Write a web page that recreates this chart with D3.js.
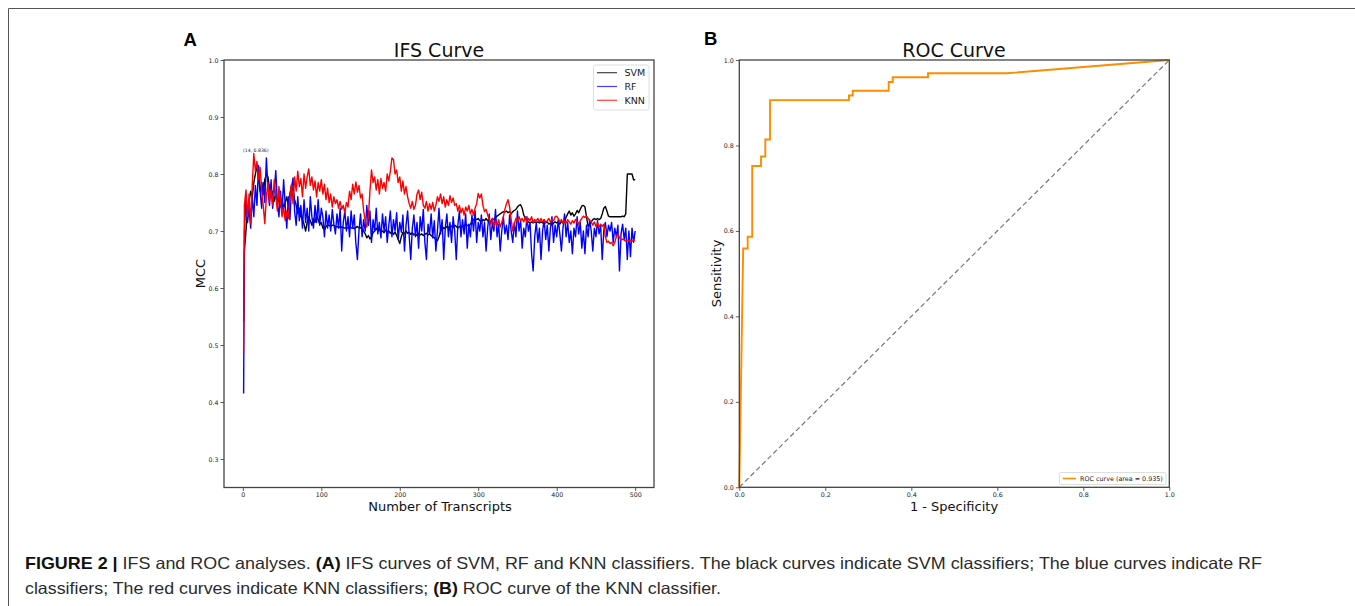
<!DOCTYPE html>
<html>
<head>
<meta charset="utf-8">
<script src="https://cdn.jsdelivr.net/npm/d3@7"></script>
<style>
  body { margin: 0; background: #fff; }
  svg { display: block; }
  .tick text { font-family: "DejaVu Sans", sans-serif; fill: #222; }
</style>
</head>
<body>
<svg id="fig" width="1355" height="606"></svg>
<script>
// number of transcripts used for each point of the IFS curves
const transcripts = [1, ...d3.range(2, 501, 2)];

const svmMcc = [
  0.540,0.665,0.700,0.735,0.752,0.770,0.760,0.785,0.800,0.815,
  0.790,0.770,0.785,0.765,0.790,0.800,0.795,0.775,0.760,0.770,
  0.752,0.765,0.745,0.760,0.742,0.755,0.740,0.750,0.760,0.745,
  0.765,0.780,0.770,0.755,0.745,0.730,0.740,0.725,0.720,0.712,
  0.700,0.715,0.725,0.718,0.710,0.722,0.715,0.728,0.720,0.712,
  0.715,0.705,0.702,0.708,0.710,0.710,0.708,0.710,0.710,0.708,
  0.707,0.708,0.706,0.707,0.706,0.705,0.706,0.705,0.707,0.705,
  0.706,0.704,0.706,0.708,0.705,0.706,0.704,0.700,0.695,0.688,
  0.692,0.686,0.690,0.697,0.700,0.705,0.700,0.703,0.698,0.700,
  0.697,0.702,0.698,0.700,0.696,0.700,0.694,0.698,0.692,0.685,
  0.678,0.690,0.698,0.695,0.700,0.696,0.698,0.694,0.697,0.693,
  0.695,0.692,0.696,0.693,0.695,0.692,0.694,0.696,0.693,0.695,
  0.692,0.690,0.688,0.685,0.683,0.690,0.700,0.702,0.706,0.704,
  0.708,0.705,0.710,0.708,0.706,0.710,0.708,0.705,0.708,0.706,
  0.710,0.708,0.712,0.710,0.708,0.712,0.716,0.720,0.722,0.720,
  0.722,0.718,0.716,0.720,0.718,0.722,0.718,0.720,0.716,0.722,
  0.720,0.724,0.726,0.728,0.730,0.732,0.734,0.733,0.735,0.732,
  0.734,0.730,0.734,0.736,0.738,0.742,0.745,0.746,0.740,0.728,
  0.722,0.718,0.716,0.714,0.716,0.714,0.716,0.715,0.716,0.714,
  0.716,0.714,0.716,0.714,0.716,0.712,0.714,0.710,0.714,0.716,
  0.714,0.716,0.712,0.716,0.714,0.716,0.724,0.730,0.735,0.728,
  0.732,0.726,0.730,0.736,0.732,0.738,0.744,0.745,0.742,0.725,
  0.708,0.712,0.716,0.720,0.722,0.720,0.722,0.720,0.722,0.730,
  0.740,0.743,0.735,0.726,0.725,0.725,0.725,0.725,0.725,0.725,
  0.725,0.725,0.726,0.725,0.730,0.800,0.800,0.800,0.800,0.790,
  0.790
];

const rfMcc = [
  0.415,0.700,0.755,0.715,0.740,0.705,0.760,0.725,0.780,0.745,
  0.815,0.770,0.740,0.785,0.750,0.828,0.775,0.745,0.790,0.740,
  0.770,0.806,0.750,0.725,0.770,0.735,0.790,0.745,0.705,0.760,
  0.720,0.775,0.793,0.735,0.710,0.760,0.718,0.745,0.705,0.755,
  0.715,0.740,0.700,0.760,0.725,0.705,0.745,0.715,0.755,0.710,
  0.740,0.725,0.690,0.735,0.705,0.728,0.700,0.738,0.712,0.695,
  0.730,0.705,0.740,0.665,0.715,0.735,0.700,0.725,0.690,0.735,
  0.705,0.728,0.680,0.650,0.700,0.730,0.690,0.720,0.700,0.745,
  0.710,0.735,0.680,0.720,0.700,0.740,0.695,0.715,0.688,0.730,
  0.700,0.725,0.680,0.710,0.735,0.690,0.720,0.700,0.732,0.685,
  0.715,0.698,0.728,0.665,0.710,0.735,0.692,0.650,0.705,0.728,
  0.690,0.715,0.670,0.725,0.700,0.738,0.680,0.650,0.712,0.695,
  0.730,0.688,0.718,0.665,0.700,0.740,0.695,0.720,0.650,0.705,
  0.730,0.690,0.715,0.680,0.725,0.700,0.650,0.710,0.735,0.690,
  0.720,0.695,0.730,0.670,0.712,0.690,0.728,0.700,0.735,0.680,
  0.715,0.700,0.728,0.690,0.715,0.665,0.705,0.730,0.685,0.715,
  0.700,0.738,0.690,0.712,0.665,0.700,0.725,0.695,0.710,0.685,
  0.728,0.700,0.680,0.715,0.690,0.735,0.700,0.720,0.670,0.705,
  0.690,0.725,0.700,0.715,0.660,0.630,0.690,0.715,0.680,0.705,
  0.650,0.700,0.720,0.685,0.710,0.665,0.705,0.725,0.680,0.710,
  0.690,0.720,0.695,0.665,0.705,0.730,0.690,0.715,0.680,0.700,
  0.660,0.705,0.690,0.725,0.695,0.715,0.670,0.700,0.660,0.710,
  0.690,0.720,0.700,0.665,0.705,0.690,0.718,0.695,0.710,0.650,
  0.700,0.715,0.690,0.710,0.700,0.715,0.680,0.705,0.690,0.710,
  0.630,0.695,0.712,0.685,0.705,0.650,0.700,0.655,0.705,0.680,
  0.700
];

const knnMcc = [
  0.486,0.745,0.772,0.726,0.765,0.712,0.780,0.836,0.805,0.822,
  0.790,0.812,0.770,0.745,0.713,0.760,0.785,0.750,0.772,0.745,
  0.790,0.762,0.735,0.778,0.752,0.725,0.742,0.718,0.735,0.722,
  0.760,0.782,0.748,0.795,0.770,0.805,0.778,0.792,0.760,0.800,
  0.775,0.795,0.809,0.780,0.795,0.772,0.788,0.760,0.785,0.770,
  0.790,0.765,0.782,0.755,0.775,0.750,0.765,0.742,0.760,0.748,
  0.755,0.740,0.752,0.738,0.745,0.732,0.750,0.742,0.770,0.755,
  0.782,0.765,0.786,0.768,0.780,0.758,0.765,0.735,0.718,0.707,
  0.725,0.770,0.807,0.785,0.795,0.772,0.790,0.765,0.792,0.775,
  0.785,0.770,0.800,0.788,0.805,0.828,0.825,0.800,0.807,0.785,
  0.795,0.770,0.788,0.765,0.778,0.760,0.748,0.740,0.752,0.738,
  0.745,0.765,0.772,0.755,0.768,0.745,0.740,0.752,0.735,0.748,
  0.738,0.750,0.735,0.745,0.760,0.752,0.765,0.748,0.760,0.742,
  0.755,0.745,0.762,0.750,0.758,0.745,0.748,0.735,0.745,0.732,
  0.740,0.728,0.742,0.735,0.745,0.730,0.738,0.728,0.740,0.748,
  0.766,0.758,0.765,0.745,0.734,0.738,0.728,0.720,0.712,0.722,
  0.708,0.718,0.710,0.720,0.707,0.715,0.725,0.738,0.748,0.755,
  0.742,0.720,0.700,0.712,0.722,0.716,0.725,0.718,0.722,0.716,
  0.725,0.715,0.722,0.718,0.725,0.715,0.720,0.718,0.722,0.716,
  0.722,0.716,0.720,0.715,0.718,0.722,0.716,0.720,0.718,0.725,
  0.726,0.722,0.716,0.720,0.714,0.718,0.714,0.720,0.716,0.712,
  0.718,0.714,0.720,0.716,0.712,0.718,0.722,0.726,0.724,0.726,
  0.722,0.718,0.716,0.710,0.716,0.708,0.714,0.707,0.712,0.708,
  0.712,0.690,0.680,0.682,0.678,0.680,0.674,0.680,0.690,0.695,
  0.688,0.684,0.686,0.684,0.682,0.684,0.682,0.684,0.682,0.684,
  0.684
];

const ifsSeries = [
  { name: 'SVM', color: '#000000', values: svmMcc },
  { name: 'RF', color: '#0000ff', values: rfMcc },
  { name: 'KNN', color: '#ff0000', values: knnMcc },
];
const bestPoint = { n: 14, mcc: 0.836 };

// ROC curve of the KNN classifier
const rocFpr = [0, 0.009, 0.0195, 0.0195, 0.030, 0.030, 0.0505, 0.0505, 0.0605, 0.0605,
  0.0714, 0.0714, 0.255, 0.255, 0.2637, 0.2637, 0.3474, 0.3474, 0.3567, 0.3567,
  0.4388, 0.4388, 0.622, 1.0];
const rocTpr = [0, 0.559, 0.559, 0.5865, 0.5865, 0.752, 0.752, 0.774, 0.774, 0.814,
  0.814, 0.906, 0.906, 0.917, 0.917, 0.928, 0.928, 0.9485, 0.9485, 0.9595,
  0.9595, 0.969, 0.969, 1.0];
const rocAuc = 0.935;

const ifsXTicks = [0, 100, 200, 300, 400, 500];
const ifsYTicks = [0.3, 0.4, 0.5, 0.6, 0.7, 0.8, 0.9, 1.0];
const rocTicks = [0, 0.2, 0.4, 0.6, 0.8, 1.0];

const svg = d3.select('#fig');
const font = '"DejaVu Sans", sans-serif';

svg.append('rect').attr('width', 1355).attr('height', 606).attr('fill', '#fff');

// figure frame
svg.append('path')
  .attr('d', 'M8.5,606 V8.5 H1355')
  .attr('fill', 'none')
  .attr('stroke', '#555')
  .attr('stroke-width', 1);

function styleAxis(g) {
  g.select('.domain').remove();
  g.selectAll('.tick line').attr('stroke', '#333').attr('stroke-width', 0.8);
  g.selectAll('.tick text').style('font-size', '6.3px');
}

function drawFrame(area) {
  svg.append('rect')
    .attr('x', area.left).attr('y', area.top)
    .attr('width', area.right - area.left).attr('height', area.bottom - area.top)
    .attr('fill', 'none')
    .attr('stroke', '#444')
    .attr('stroke-width', 1.3);
}

// ---------- panel A: IFS curve ----------
const areaA = { left: 224, right: 654, top: 60, bottom: 487.5 };
const xA = d3.scaleLinear().domain([-24, 524]).range([areaA.left, areaA.right]);
const yA = d3.scaleLinear().domain([0.25, 1.0]).range([areaA.bottom, areaA.top]);

svg.append('clipPath').attr('id', 'clipA')
  .append('rect')
  .attr('x', areaA.left).attr('y', areaA.top)
  .attr('width', areaA.right - areaA.left).attr('height', areaA.bottom - areaA.top);

const lineA = d3.line()
  .x((d, i) => xA(transcripts[i]))
  .y((d) => yA(d));

const curves = svg.append('g').attr('clip-path', 'url(#clipA)');
ifsSeries.forEach((s) => {
  curves.append('path')
    .datum(s.values)
    .attr('d', lineA)
    .attr('fill', 'none')
    .attr('stroke', s.color)
    .attr('stroke-width', 1.4)
    .attr('stroke-linejoin', 'round');
});

svg.append('text')
  .attr('x', xA(bestPoint.n) + 2)
  .attr('y', yA(bestPoint.mcc) - 1.5)
  .attr('text-anchor', 'middle')
  .style('font-family', font)
  .style('font-size', '4.6px')
  .attr('fill', '#222')
  .text(`(${bestPoint.n}, ${bestPoint.mcc})`);

svg.append('g')
  .attr('transform', `translate(0,${areaA.bottom})`)
  .call(d3.axisBottom(xA).tickValues(ifsXTicks).tickSize(3.5).tickPadding(2))
  .call(styleAxis);

svg.append('g')
  .attr('transform', `translate(${areaA.left},0)`)
  .call(d3.axisLeft(yA).tickValues(ifsYTicks).tickFormat(d3.format('.1f')).tickSize(3.5).tickPadding(2))
  .call(styleAxis);

drawFrame(areaA);

// legend A
const legA = svg.append('g').attr('transform', 'translate(593.5,65)');
legA.append('rect')
  .attr('width', 55.5).attr('height', 45)
  .attr('rx', 2)
  .attr('fill', '#fff')
  .attr('stroke', '#d6d6d6')
  .attr('stroke-width', 0.8);
ifsSeries.forEach((s, i) => {
  const y = 7.7 + i * 13.8;
  legA.append('line')
    .attr('x1', 3.5).attr('x2', 23.5).attr('y1', y).attr('y2', y)
    .attr('stroke', s.color).attr('stroke-width', 1.2).attr('stroke-opacity', 0.75);
  legA.append('text')
    .attr('x', 31).attr('y', y + 3.4)
    .style('font-family', font).style('font-size', '9.5px')
    .attr('fill', '#222')
    .text(s.name);
});

// titles and labels A
svg.append('text')
  .attr('x', 439).attr('y', 56.5)
  .attr('text-anchor', 'middle')
  .style('font-family', font).style('font-size', '19px')
  .attr('fill', '#111')
  .text('IFS Curve');

svg.append('text')
  .attr('x', 440).attr('y', 510.5)
  .attr('text-anchor', 'middle')
  .style('font-family', font).style('font-size', '13px')
  .attr('fill', '#111')
  .text('Number of Transcripts');

svg.append('text')
  .attr('transform', 'translate(205,273.5) rotate(-90)')
  .attr('text-anchor', 'middle')
  .style('font-family', font).style('font-size', '13px')
  .attr('fill', '#111')
  .text('MCC');

// ---------- panel B: ROC curve ----------
const areaB = { left: 739.3, right: 1169.3, top: 60, bottom: 487.3 };
const xB = d3.scaleLinear().domain([0, 1]).range([areaB.left, areaB.right]);
const yB = d3.scaleLinear().domain([0, 1]).range([areaB.bottom, areaB.top]);

svg.append('path')
  .datum([0, 1])
  .attr('d', d3.line().x((d) => xB(d)).y((d) => yB(d)))
  .attr('fill', 'none')
  .attr('stroke', '#777')
  .attr('stroke-width', 1.2)
  .attr('stroke-dasharray', '5,3');

svg.append('path')
  .datum(rocFpr)
  .attr('d', d3.line().x((d) => xB(d)).y((d, i) => yB(rocTpr[i])))
  .attr('fill', 'none')
  .attr('stroke', '#ff8c00')
  .attr('stroke-width', 1.9)
  .attr('stroke-linejoin', 'miter');

svg.append('g')
  .attr('transform', `translate(0,${areaB.bottom})`)
  .call(d3.axisBottom(xB).tickValues(rocTicks).tickFormat(d3.format('.1f')).tickSize(3.5).tickPadding(2))
  .call(styleAxis);

svg.append('g')
  .attr('transform', `translate(${areaB.left},0)`)
  .call(d3.axisLeft(yB).tickValues(rocTicks).tickFormat(d3.format('.1f')).tickSize(3.5).tickPadding(2))
  .call(styleAxis);

drawFrame(areaB);

// legend B
const legB = svg.append('g').attr('transform', 'translate(1059.5,472.5)');
legB.append('rect')
  .attr('width', 106.5).attr('height', 12)
  .attr('rx', 1.5)
  .attr('fill', '#fff')
  .attr('stroke', '#d6d6d6')
  .attr('stroke-width', 0.8);
legB.append('line')
  .attr('x1', 3.2).attr('x2', 16.5).attr('y1', 6).attr('y2', 6)
  .attr('stroke', '#ff8c00').attr('stroke-width', 1.5);
legB.append('text')
  .attr('x', 20.5).attr('y', 8.3)
  .style('font-family', font).style('font-size', '6.4px')
  .attr('fill', '#222')
  .text(`ROC curve (area = ${rocAuc})`);

svg.append('text')
  .attr('x', 954).attr('y', 56.5)
  .attr('text-anchor', 'middle')
  .style('font-family', font).style('font-size', '19px')
  .attr('fill', '#111')
  .text('ROC Curve');

svg.append('text')
  .attr('x', 954).attr('y', 510.5)
  .attr('text-anchor', 'middle')
  .style('font-family', font).style('font-size', '13px')
  .attr('fill', '#111')
  .text('1 - Specificity');

svg.append('text')
  .attr('transform', 'translate(720.5,273.5) rotate(-90)')
  .attr('text-anchor', 'middle')
  .style('font-family', font).style('font-size', '13px')
  .attr('fill', '#111')
  .text('Sensitivity');

// panel letters
[['A', 183.5, 45.5], ['B', 704, 45]].forEach(([t, x, y]) => {
  svg.append('text')
    .attr('x', x).attr('y', y)
    .style('font-family', '"Liberation Sans", Arial, sans-serif')
    .style('font-size', '18.5px').style('font-weight', 'bold')
    .attr('fill', '#000')
    .text(t);
});

// caption
const capFont = '"Liberation Sans", Arial, sans-serif';
const cap1 = svg.append('text')
  .attr('x', 25).attr('y', 569)
  .attr('textLength', 1237).attr('lengthAdjust', 'spacingAndGlyphs')
  .style('font-family', capFont).style('font-size', '16.5px')
  .attr('fill', '#2b2b2b');
cap1.append('tspan').style('font-weight', 'bold').attr('fill', '#111').text('FIGURE 2 |');
cap1.append('tspan').text(' IFS and ROC analyses. ');
cap1.append('tspan').style('font-weight', 'bold').attr('fill', '#111').text('(A)');
cap1.append('tspan').text(' IFS curves of SVM, RF and KNN classifiers. The black curves indicate SVM classifiers; The blue curves indicate RF');

const cap2 = svg.append('text')
  .attr('x', 25).attr('y', 594)
  .attr('textLength', 696).attr('lengthAdjust', 'spacingAndGlyphs')
  .style('font-family', capFont).style('font-size', '16.5px')
  .attr('fill', '#2b2b2b');
cap2.append('tspan').text('classifiers; The red curves indicate KNN classifiers; ');
cap2.append('tspan').style('font-weight', 'bold').attr('fill', '#111').text('(B)');
cap2.append('tspan').text(' ROC curve of the KNN classifier.');
</script>
</body>
</html>
